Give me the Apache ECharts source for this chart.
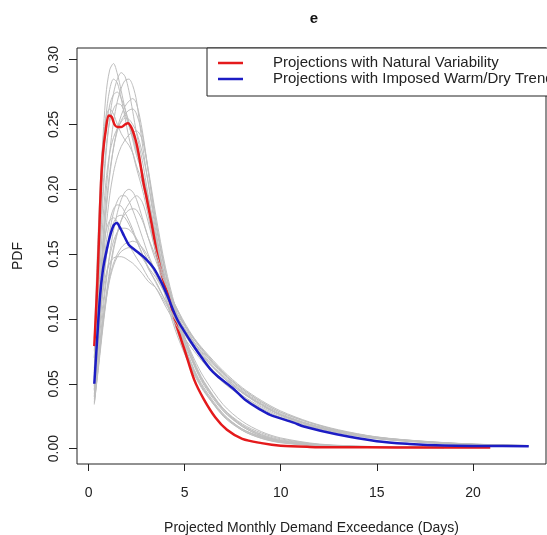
<!DOCTYPE html>
<html>
<head>
<meta charset="utf-8">
<script src="https://cdn.jsdelivr.net/npm/echarts@6/dist/echarts.min.js"></script>
<style>
  html, body { margin: 0; padding: 0; background: #fff; }
  #chart { width: 547px; height: 535px; }
</style>
</head>
<body>
<div id="chart"></div>
<script>
// ensemble PDFs, natural variability group (grey)
const xNat = [0.3, 0.5, 0.7, 0.9, 1.1, 1.3, 1.5, 1.7, 1.9, 2.1, 2.3, 2.5, 2.8, 3.1, 3.5, 4.0, 4.5, 5.0, 5.5, 6.0, 7.0, 8.0, 9.0, 10, 12, 15, 18.5]
const nat1 = [0.075, 0.150, 0.225, 0.272, 0.292, 0.297, 0.289, 0.276, 0.262, 0.250, 0.238, 0.226, 0.212, 0.188, 0.155, 0.120, 0.095, 0.075, 0.058, 0.045, 0.026, 0.015, 0.009, 0.0055, 0.0025, 0.0012, 0.0008]
const nat2 = [0.060, 0.120, 0.180, 0.225, 0.255, 0.274, 0.285, 0.290, 0.287, 0.276, 0.260, 0.243, 0.222, 0.196, 0.162, 0.126, 0.099, 0.077, 0.059, 0.045, 0.025, 0.014, 0.008, 0.0048, 0.0022, 0.0011, 0.0008]
const nat3 = [0.050, 0.100, 0.150, 0.195, 0.228, 0.252, 0.268, 0.278, 0.284, 0.285, 0.280, 0.268, 0.235, 0.205, 0.168, 0.130, 0.101, 0.078, 0.060, 0.046, 0.026, 0.014, 0.0078, 0.0045, 0.002, 0.001, 0.0007]
const nat4 = [0.070, 0.140, 0.205, 0.245, 0.265, 0.273, 0.275, 0.270, 0.262, 0.252, 0.242, 0.230, 0.213, 0.192, 0.162, 0.129, 0.103, 0.082, 0.065, 0.051, 0.031, 0.019, 0.012, 0.0075, 0.0032, 0.0014, 0.0009]
const nat5 = [0.045, 0.090, 0.140, 0.180, 0.210, 0.232, 0.247, 0.257, 0.264, 0.268, 0.270, 0.266, 0.245, 0.215, 0.175, 0.135, 0.104, 0.080, 0.061, 0.047, 0.027, 0.015, 0.0085, 0.005, 0.0022, 0.0011, 0.0008]
const nat6 = [0.085, 0.165, 0.228, 0.255, 0.262, 0.258, 0.250, 0.243, 0.238, 0.234, 0.228, 0.218, 0.205, 0.186, 0.160, 0.130, 0.106, 0.086, 0.069, 0.055, 0.034, 0.021, 0.013, 0.0082, 0.0035, 0.0015, 0.0009]
const nat7 = [0.055, 0.110, 0.165, 0.205, 0.228, 0.240, 0.247, 0.252, 0.255, 0.254, 0.250, 0.244, 0.228, 0.206, 0.172, 0.136, 0.108, 0.085, 0.066, 0.051, 0.030, 0.017, 0.010, 0.006, 0.0027, 0.0012, 0.0008]
const nat8 = [0.040, 0.085, 0.130, 0.168, 0.195, 0.213, 0.225, 0.233, 0.238, 0.242, 0.244, 0.245, 0.238, 0.216, 0.180, 0.140, 0.110, 0.086, 0.067, 0.052, 0.031, 0.018, 0.0105, 0.0062, 0.0028, 0.0013, 0.0008]
const nat9 = [0.070, 0.140, 0.210, 0.255, 0.277, 0.285, 0.282, 0.270, 0.255, 0.240, 0.228, 0.216, 0.200, 0.180, 0.150, 0.117, 0.092, 0.073, 0.057, 0.044, 0.026, 0.015, 0.009, 0.0055, 0.0024, 0.0011, 0.0007]
const nat10 = [0.048, 0.095, 0.145, 0.185, 0.213, 0.232, 0.245, 0.253, 0.258, 0.261, 0.262, 0.258, 0.242, 0.214, 0.176, 0.137, 0.107, 0.083, 0.064, 0.049, 0.029, 0.017, 0.0095, 0.0056, 0.0025, 0.0012, 0.0008]
const nat11 = [0.062, 0.125, 0.188, 0.230, 0.252, 0.262, 0.266, 0.265, 0.258, 0.249, 0.240, 0.229, 0.214, 0.194, 0.165, 0.131, 0.104, 0.082, 0.064, 0.050, 0.030, 0.018, 0.011, 0.0068, 0.003, 0.0013, 0.0008]

// ensemble PDFs, imposed warm/dry trend group (grey)
const xTrend = [0.3, 0.5, 0.7, 0.9, 1.1, 1.3, 1.5, 1.7, 1.9, 2.1, 2.3, 2.5, 2.8, 3.1, 3.5, 4.0, 4.5, 5.0, 5.5, 6.0, 7.0, 8.0, 9.0, 10, 11.5, 13, 15, 17.5, 20, 22.9]
const trend1 = [0.040, 0.068, 0.098, 0.126, 0.150, 0.168, 0.182, 0.192, 0.198, 0.200, 0.198, 0.192, 0.178, 0.163, 0.145, 0.127, 0.111, 0.097, 0.085, 0.075, 0.058, 0.045, 0.035, 0.027, 0.019, 0.0135, 0.0085, 0.0052, 0.0033, 0.0022]
const trend2 = [0.045, 0.080, 0.115, 0.145, 0.167, 0.182, 0.191, 0.195, 0.195, 0.191, 0.184, 0.176, 0.163, 0.150, 0.136, 0.120, 0.105, 0.092, 0.081, 0.071, 0.055, 0.043, 0.033, 0.026, 0.018, 0.013, 0.008, 0.005, 0.0031, 0.0021]
const trend3 = [0.050, 0.090, 0.128, 0.157, 0.175, 0.185, 0.188, 0.187, 0.182, 0.176, 0.169, 0.161, 0.150, 0.139, 0.129, 0.114, 0.100, 0.088, 0.077, 0.068, 0.053, 0.041, 0.032, 0.025, 0.0175, 0.0125, 0.0078, 0.0048, 0.003, 0.002]
const trend4 = [0.036, 0.062, 0.090, 0.116, 0.138, 0.155, 0.167, 0.176, 0.181, 0.184, 0.185, 0.184, 0.176, 0.163, 0.148, 0.128, 0.110, 0.095, 0.082, 0.072, 0.056, 0.044, 0.034, 0.026, 0.0185, 0.013, 0.0082, 0.005, 0.0032, 0.0021]
const trend5 = [0.058, 0.105, 0.145, 0.167, 0.176, 0.178, 0.175, 0.169, 0.163, 0.157, 0.152, 0.147, 0.140, 0.132, 0.124, 0.110, 0.097, 0.085, 0.075, 0.066, 0.051, 0.040, 0.031, 0.024, 0.017, 0.012, 0.0075, 0.0046, 0.0029, 0.0019]
const trend6 = [0.042, 0.075, 0.105, 0.130, 0.148, 0.160, 0.167, 0.170, 0.170, 0.169, 0.166, 0.162, 0.154, 0.145, 0.134, 0.119, 0.105, 0.093, 0.082, 0.073, 0.058, 0.046, 0.036, 0.028, 0.020, 0.014, 0.0088, 0.0055, 0.0034, 0.0023]
const trend7 = [0.034, 0.062, 0.090, 0.113, 0.130, 0.141, 0.148, 0.152, 0.154, 0.155, 0.154, 0.152, 0.147, 0.140, 0.132, 0.119, 0.106, 0.095, 0.085, 0.076, 0.060, 0.047, 0.037, 0.029, 0.0205, 0.0145, 0.009, 0.0056, 0.0035, 0.0024]
const trend8 = [0.048, 0.085, 0.115, 0.134, 0.143, 0.147, 0.148, 0.148, 0.147, 0.145, 0.143, 0.140, 0.135, 0.129, 0.124, 0.112, 0.100, 0.089, 0.079, 0.070, 0.055, 0.043, 0.034, 0.026, 0.0185, 0.013, 0.0082, 0.005, 0.0031, 0.0021]
const trend9 = [0.035, 0.060, 0.087, 0.112, 0.135, 0.153, 0.166, 0.176, 0.184, 0.189, 0.193, 0.195, 0.190, 0.175, 0.152, 0.129, 0.111, 0.096, 0.084, 0.074, 0.057, 0.044, 0.034, 0.026, 0.0185, 0.013, 0.0083, 0.0051, 0.0032, 0.0021]
const trend10 = [0.046, 0.082, 0.118, 0.145, 0.163, 0.174, 0.179, 0.180, 0.178, 0.173, 0.167, 0.160, 0.150, 0.140, 0.128, 0.114, 0.101, 0.089, 0.079, 0.070, 0.055, 0.043, 0.034, 0.026, 0.0185, 0.0132, 0.0083, 0.0051, 0.0032, 0.0021]
const trend11 = [0.038, 0.066, 0.094, 0.116, 0.132, 0.143, 0.150, 0.155, 0.158, 0.159, 0.160, 0.159, 0.155, 0.148, 0.136, 0.121, 0.107, 0.095, 0.084, 0.075, 0.059, 0.046, 0.036, 0.028, 0.020, 0.014, 0.0088, 0.0054, 0.0034, 0.0023]

// mean PDFs
const xRed = [0.3, 0.45, 0.55, 0.65, 0.75, 0.9, 1.05, 1.2, 1.35, 1.5, 1.7, 1.9, 2.05, 2.25, 2.45, 2.6, 2.87, 3.0, 3.3, 3.57, 3.84, 4.2, 4.6, 5.0, 5.5, 6.0, 6.6, 7.2, 8.0, 9.0, 10.0, 11.5, 13, 16, 19, 20.9]
const yRed = [0.079, 0.125, 0.165, 0.205, 0.228, 0.246, 0.257, 0.256, 0.250, 0.248, 0.248, 0.250, 0.251, 0.247, 0.238, 0.228, 0.204, 0.195, 0.172, 0.150, 0.133, 0.115, 0.094, 0.076, 0.053, 0.038, 0.024, 0.0145, 0.0075, 0.0042, 0.0022, 0.0013, 0.001, 0.0009, 0.0008, 0.0008]
const xBlue = [0.3, 0.45, 0.6, 0.75, 0.9, 1.1, 1.3, 1.47, 1.65, 1.85, 2.1, 2.35, 2.6, 3.0, 3.4, 3.8, 4.1, 4.6, 5.0, 5.3, 5.8, 6.35, 6.7, 7.55, 8.2, 8.94, 9.45, 10.67, 11.2, 12.9, 15, 16.7, 18.5, 20.5, 22.9]
const yBlue = [0.050, 0.085, 0.118, 0.138, 0.150, 0.163, 0.172, 0.174, 0.170, 0.164, 0.157, 0.154, 0.151, 0.146, 0.139, 0.128, 0.118, 0.100, 0.090, 0.083, 0.072, 0.061, 0.056, 0.046, 0.037, 0.030, 0.026, 0.020, 0.017, 0.011, 0.0057, 0.0036, 0.0023, 0.002, 0.0018]

const xTicks = [0, 5, 10, 15, 20]
const yTicks = [0, 0.05, 0.10, 0.15, 0.20, 0.25, 0.30]
const legendNames = ['Projections with Natural Variability', 'Projections with Imposed Warm/Dry Trend']

const font = "'Liberation Sans', Arial, sans-serif"
const grey = '#bebebe'
const red = '#e41a1c'
const blue = '#1c1cc4'
const ink = '#222'

const chart = echarts.init(document.getElementById('chart'))

const pairs = (xs, ys) => xs.map((x, i) => [x, ys[i]])

const greyLine = (xs, ys) => ({
  type: 'line',
  data: pairs(xs, ys),
  showSymbol: false,
  smooth: 0.3,
  silent: true,
  lineStyle: { color: grey, width: 1 }
})

const natural = [nat1, nat2, nat3, nat4, nat5, nat6, nat7, nat8, nat9, nat10, nat11].map(ys => greyLine(xNat, ys))
const trend = [trend1, trend2, trend3, trend4, trend5, trend6, trend7, trend8, trend9, trend10, trend11].map(ys => greyLine(xTrend, ys))

const option = {
  animation: false,
  backgroundColor: '#fff',
  textStyle: { fontFamily: font },
  title: {
    text: 'e',
    left: 309,
    top: 6,
    textAlign: 'center',
    textStyle: { fontSize: 15, fontWeight: 'bold', color: '#111', fontFamily: font }
  },
  grid: {
    left: 77, top: 48, right: 1, bottom: 71,
    outerBoundsMode: 'none',
    show: true, borderColor: ink, borderWidth: 1
  },
  xAxis: {
    type: 'value',
    min: -0.6,
    max: 23.8,
    name: 'Projected Monthly Demand Exceedance (Days)',
    nameLocation: 'middle',
    nameGap: 57,
    nameTextStyle: { fontSize: 14, color: ink, fontFamily: font },
    axisLine: { show: false, onZero: false },
    splitLine: { show: false },
    axisTick: { customValues: xTicks, length: 7, lineStyle: { color: ink } },
    axisLabel: { customValues: xTicks, margin: 22, fontSize: 14, color: ink, fontFamily: font }
  },
  yAxis: {
    type: 'value',
    min: -0.0119,
    max: 0.309,
    name: 'PDF',
    nameLocation: 'middle',
    nameGap: 52,
    nameTextStyle: { fontSize: 14, color: ink, fontFamily: font },
    axisLine: { show: false, onZero: false },
    splitLine: { show: false },
    axisTick: { customValues: yTicks, length: 8, lineStyle: { color: ink } },
    axisLabel: {
      customValues: yTicks, rotate: 90, margin: 16, fontSize: 14, color: ink, fontFamily: font,
      formatter: v => v.toFixed(2)
    }
  },
  series: [
    ...natural,
    {
      type: 'line',
      name: legendNames[0],
      data: pairs(xRed, yRed),
      showSymbol: false,
      smooth: 0.3,
      lineStyle: { color: red, width: 2.5 }
    },
    ...trend,
    {
      type: 'line',
      name: legendNames[1],
      data: pairs(xBlue, yBlue),
      showSymbol: false,
      smooth: 0.3,
      lineStyle: { color: blue, width: 2.5 }
    }
  ],
  graphic: [
    {
      type: 'rect', z: 100,
      shape: { x: 207, y: 48, width: 400, height: 48 },
      style: { fill: '#fff', stroke: ink, lineWidth: 1 }
    },
    { type: 'line', z: 101, shape: { x1: 218, y1: 63, x2: 243, y2: 63 }, style: { stroke: red, lineWidth: 2.5 } },
    { type: 'line', z: 101, shape: { x1: 218, y1: 79, x2: 243, y2: 79 }, style: { stroke: blue, lineWidth: 2.5 } },
    {
      type: 'text', z: 101, x: 273, y: 63,
      style: { text: legendNames[0], font: '15px ' + font, fill: ink, textVerticalAlign: 'middle' }
    },
    {
      type: 'text', z: 101, x: 273, y: 79,
      style: { text: legendNames[1], font: '15px ' + font, fill: ink, textVerticalAlign: 'middle' }
    }
  ]
}

chart.setOption(option)
</script>
</body>
</html>
